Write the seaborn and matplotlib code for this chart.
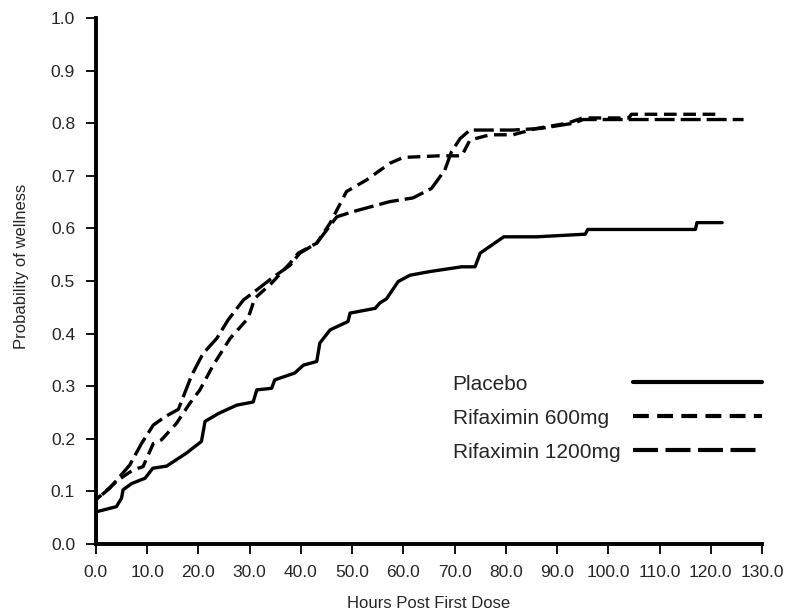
import matplotlib
matplotlib.use("Agg")
import matplotlib.pyplot as plt
import seaborn as sns

# Kaplan-Meier style curves (hours, probability)
placebo_x = [0, 0, 4.0, 5.0, 5.3, 7.0, 9.6, 11.1, 13.8, 17.7, 20.6, 21.3, 23.9, 27.5, 30.7,
             31.4, 34.3, 34.9, 38.8, 40.5, 43.1, 43.7, 45.7, 49.2, 49.6, 54.5, 55.4, 56.7,
             59.0, 61.3, 65.2, 71.4, 74.0, 75.0, 79.6, 86.0, 95.5, 96.0, 117.0, 117.3, 122.2]
placebo_y = [0, 0.061, 0.071, 0.087, 0.103, 0.115, 0.125, 0.144, 0.148, 0.173, 0.195, 0.233,
             0.248, 0.264, 0.270, 0.293, 0.296, 0.312, 0.325, 0.340, 0.347, 0.382, 0.407,
             0.423, 0.439, 0.448, 0.458, 0.466, 0.499, 0.511, 0.518, 0.527, 0.527, 0.553,
             0.584, 0.584, 0.589, 0.598, 0.598, 0.611, 0.611]

rif600_x = [0, 0, 4.4, 7.3, 9.2, 11.2, 12.8, 15.7, 18.3, 20.3, 22.9, 26.2, 29.7, 31.0, 34.3,
            37.9, 39.5, 43.1, 45.7, 48.9, 52.8, 57.4, 60.0, 67.0, 71.4, 73.0, 76.9, 81.4,
            86.0, 92.0, 95.0, 104.0, 104.5, 121.0]
rif600_y = [0, 0.084, 0.122, 0.141, 0.147, 0.191, 0.198, 0.229, 0.267, 0.293, 0.340, 0.391,
            0.429, 0.467, 0.496, 0.534, 0.553, 0.572, 0.610, 0.670, 0.692, 0.724, 0.735,
            0.738, 0.738, 0.768, 0.778, 0.778, 0.790, 0.800, 0.810, 0.810, 0.817, 0.817]

rif1200_x = [0, 0, 2.7, 6.6, 8.9, 11.2, 13.5, 16.1, 18.7, 20.9, 23.6, 25.8, 28.8, 31.4, 34.3,
             37.9, 39.8, 43.1, 47.0, 50.2, 57.4, 61.9, 65.5, 68.1, 69.4, 71.1, 73.0, 81.4,
             86.7, 93.2, 95.1, 126.4]
rif1200_y = [0, 0.084, 0.106, 0.150, 0.191, 0.226, 0.242, 0.256, 0.321, 0.362, 0.391, 0.426,
             0.464, 0.483, 0.505, 0.530, 0.553, 0.572, 0.622, 0.632, 0.651, 0.658, 0.676,
             0.711, 0.746, 0.771, 0.787, 0.787, 0.790, 0.800, 0.807, 0.807]

labels = ["Placebo", "Rifaximin 600mg", "Rifaximin 1200mg"]
x_ticks = list(range(0, 131, 10))
y_ticks = [i / 10 for i in range(11)]

sns.set_style("ticks")
plt.rcParams["font.family"] = ["Liberation Sans", "DejaVu Sans"]

fig = plt.figure(figsize=(7.86, 6.13), dpi=100)
ax = fig.add_axes([0.122, 0.1126, 0.8475, 0.858])

series = [(placebo_x, placebo_y, "-"),
          (rif600_x, rif600_y, (0, (3.8, 2.0))),
          (rif1200_x, rif1200_y, (0, (6.0, 1.8)))]
for (xs, ys, ls), lab in zip(series, labels):
    sns.lineplot(x=xs, y=ys, ax=ax, color="black", lw=2.4, linestyle=ls,
                 estimator=None, sort=False, label=lab)

ax.set_xlim(0, 130)
ax.set_ylim(0, 1.0)
ax.set_xticks(x_ticks)
ax.set_xticklabels([f"{t:.1f}" for t in x_ticks], fontsize=12.5)
ax.set_yticks(y_ticks)
ax.set_yticklabels([f"{t:.1f}" for t in y_ticks], fontsize=12.5)
ax.tick_params(direction="out", length=7, width=1.3, color="black", pad=8)
for side in ["left", "bottom"]:
    ax.spines[side].set_linewidth(2.8)
    ax.spines[side].set_color("black")
sns.despine(ax=ax)
ax.spines["left"].set_zorder(5)

ax.set_xlabel("Hours Post First Dose", fontsize=12)
ax.xaxis.set_label_coords(0.5, -0.099)
ax.set_ylabel("Probability of wellness", fontsize=12)
ax.yaxis.set_label_coords(-0.101, 0.527)

leg = ax.legend(loc="upper right", bbox_to_anchor=(1.0, 0.322), frameon=False,
                markerfirst=False, fontsize=15, handlelength=6.2, handletextpad=0.6,
                labelspacing=0.72, borderpad=0, borderaxespad=0)
for line in leg.get_lines():
    line.set_linewidth(3.0)

# left-align the legend labels while keeping the line samples lined up on the right
fig.canvas.draw()
renderer = fig.canvas.get_renderer()
widths = [t.get_window_extent(renderer).width for t in leg.get_texts()]
wmax = max(widths)
rows = [row for col in leg._legend_handle_box.get_children() for row in col.get_children()]
for row, w in zip(rows, widths):
    row.sep = leg.handletextpad * leg._fontsize + (wmax - w) * 72 / fig.dpi

fig.savefig("out.png", dpi=100)
